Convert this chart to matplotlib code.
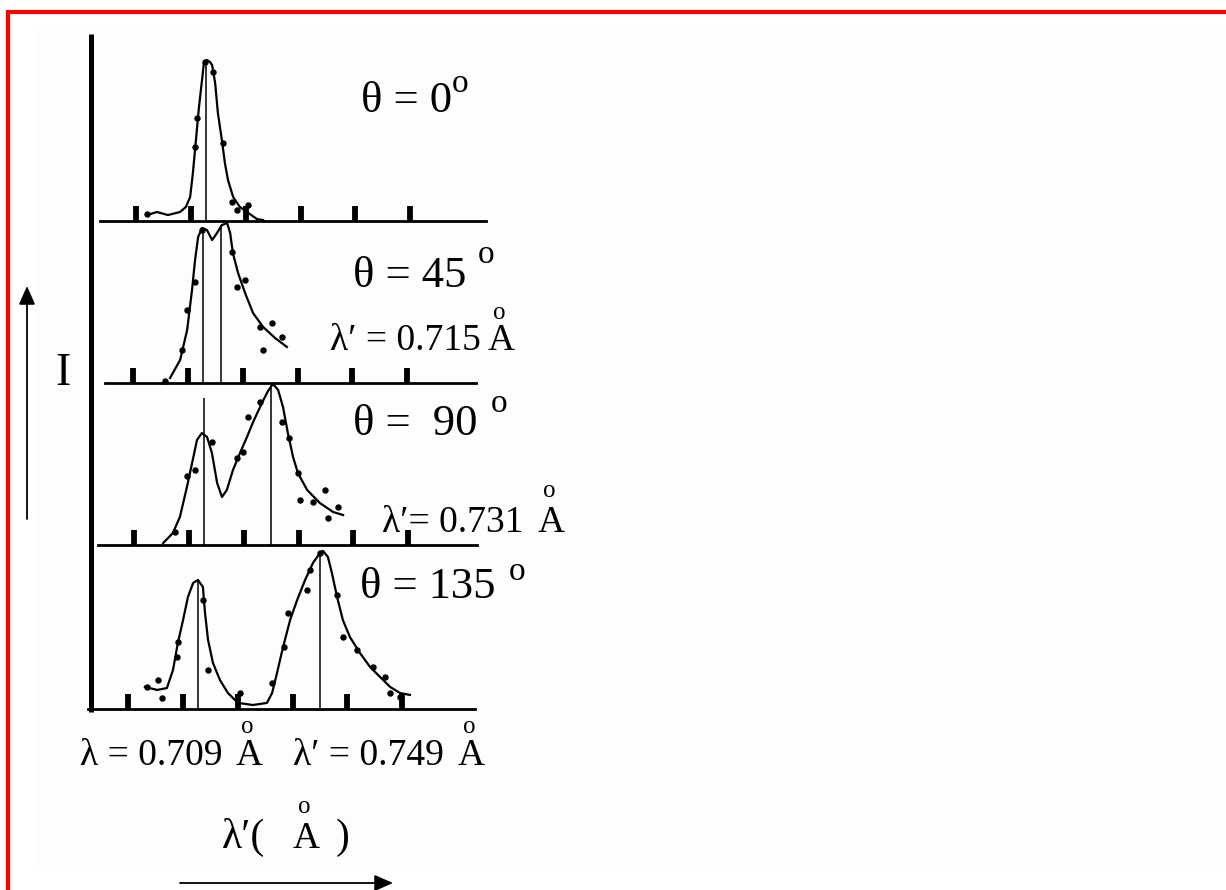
import matplotlib
matplotlib.use("Agg")
import matplotlib.pyplot as plt
from matplotlib.patches import Rectangle

plt.rcParams['font.family'] = ['Liberation Serif', 'DejaVu Serif']

# ---- wavelengths (Å) ----
lam_primary = 0.709
lam_shifted = {45: 0.715, 90: 0.731, 135: 0.749}
tick_lam = [0.686, 0.704, 0.722, 0.740, 0.758, 0.776]

# ---- theta = 0 deg ----
lam_00 = [0.6897, 0.6929, 0.6965, 0.7005, 0.7024, 0.7038, 0.7047, 0.7054, 0.7060,
          0.7067, 0.7077, 0.7083, 0.7093, 0.7103, 0.7110, 0.7120, 0.7129, 0.7142,
          0.7152, 0.7162, 0.7179, 0.7201, 0.7234, 0.7257, 0.7277]
int_00 = [0.037, 0.056, 0.037, 0.056, 0.087, 0.149, 0.298, 0.441, 0.565,
          0.708, 0.876, 0.981, 1.000, 0.988, 0.969, 0.857, 0.671, 0.503,
          0.360, 0.255, 0.149, 0.087, 0.043, 0.012, 0.006]
dot_lam_00 = [0.6897, 0.7054, 0.7060, 0.7087, 0.7113, 0.7146, 0.7175, 0.7192, 0.7228]
dot_int_00 = [0.043, 0.460, 0.640, 0.988, 0.925, 0.484, 0.118, 0.068, 0.099]
line_int_00 = [0.97]

# ---- theta = 45 deg ----
lam_45 = [0.6982, 0.7015, 0.7038, 0.7054, 0.7064, 0.7074, 0.7087, 0.7103, 0.7120,
          0.7136, 0.7152, 0.7169, 0.7179, 0.7188, 0.7205, 0.7228, 0.7254, 0.7287,
          0.7326, 0.7365]
int_45 = [0.031, 0.143, 0.329, 0.578, 0.764, 0.907, 0.963, 0.950, 0.888,
          0.932, 0.981, 0.994, 0.932, 0.807, 0.683, 0.559, 0.435, 0.348,
          0.280, 0.224]
dot_lam_45 = [0.6965, 0.7021, 0.7038, 0.7064, 0.7087, 0.7185, 0.7228, 0.7201,
              0.7277, 0.7316, 0.7349, 0.7287]
dot_int_45 = [0.012, 0.205, 0.453, 0.627, 0.950, 0.814, 0.640, 0.596,
              0.348, 0.373, 0.286, 0.205]
line_int_45 = [0.95, 0.98]

# ---- theta = 90 deg ----
lam_90 = [0.6956, 0.6988, 0.7011, 0.7034, 0.7051, 0.7067, 0.7083, 0.7100, 0.7116,
          0.7133, 0.7149, 0.7165, 0.7185, 0.7208, 0.7231, 0.7251, 0.7280, 0.7300,
          0.7316, 0.7333, 0.7349, 0.7365, 0.7382, 0.7398, 0.7428, 0.7470, 0.7513,
          0.7546]
int_90 = [0.012, 0.074, 0.173, 0.358, 0.506, 0.648, 0.691, 0.667, 0.568,
          0.383, 0.296, 0.340, 0.463, 0.568, 0.667, 0.759, 0.877, 0.951,
          0.994, 0.957, 0.852, 0.691, 0.543, 0.444, 0.340, 0.259, 0.204,
          0.185]
dot_lam_90 = [0.6995, 0.7034, 0.7060, 0.7116, 0.7198, 0.7218, 0.7234, 0.7274,
              0.7346, 0.7369, 0.7398, 0.7405, 0.7447, 0.7487, 0.7497, 0.7529]
dot_int_90 = [0.080, 0.426, 0.463, 0.636, 0.537, 0.574, 0.790, 0.883,
              0.759, 0.660, 0.444, 0.278, 0.265, 0.340, 0.167, 0.235]
line_int_90 = [0.91, 0.99]

# ---- theta = 135 deg ----
lam_135 = [0.6916, 0.6956, 0.6988, 0.7008, 0.7024, 0.7041, 0.7057, 0.7074, 0.7090,
           0.7106, 0.7113, 0.7123, 0.7139, 0.7162, 0.7188, 0.7221, 0.7270, 0.7316,
           0.7333, 0.7349, 0.7369, 0.7392, 0.7415, 0.7441, 0.7467, 0.7490, 0.7500,
           0.7516, 0.7529, 0.7546, 0.7565, 0.7588, 0.7621, 0.7654, 0.7687, 0.7720,
           0.7752, 0.7785]
int_135 = [0.138, 0.119, 0.131, 0.244, 0.413, 0.556, 0.700, 0.788, 0.806,
           0.763, 0.600, 0.431, 0.288, 0.181, 0.100, 0.038, 0.025, 0.038,
           0.100, 0.225, 0.388, 0.556, 0.681, 0.806, 0.913, 0.975, 0.988,
           0.950, 0.850, 0.700, 0.556, 0.450, 0.350, 0.263, 0.200, 0.138,
           0.100, 0.088]
dot_lam_135 = [0.6923, 0.6959, 0.6972, 0.7024, 0.7021, 0.7106, 0.7123, 0.7228,
               0.7333, 0.7372, 0.7385, 0.7447, 0.7457, 0.7490, 0.7546, 0.7565,
               0.7611, 0.7664, 0.7703, 0.7720, 0.7752]
dot_int_135 = [0.138, 0.181, 0.069, 0.419, 0.325, 0.681, 0.244, 0.100,
               0.163, 0.388, 0.600, 0.744, 0.869, 0.975, 0.713, 0.450,
               0.369, 0.263, 0.200, 0.100, 0.075]
line_int_135 = [0.81, 0.975]

W, HF = 1226, 890
PX_PER_A = 3050.0

fig = plt.figure(figsize=(W / 100, HF / 100), dpi=100)
fig.patch.set_facecolor('white')

# overlay in pixel coordinates for frame, arrows and labels
ov = fig.add_axes([0, 0, 1, 1])
ov.set_xlim(0, W)
ov.set_ylim(HF, 0)
ov.axis('off')

ov.add_patch(Rectangle((36, 30), W - 36, 836, facecolor='#fdfdfd', edgecolor='none', zorder=0))
ov.plot([8, 8], [10, HF], color='#ff0000', lw=3.0, solid_capstyle='butt')
ov.plot([6, W], [12, 12], color='#ff0000', lw=3.0, solid_capstyle='butt')

# intensity axis line
ov.plot([91, 91], [34, 712], color='black', lw=3.6, solid_capstyle='butt', zorder=3)

# direction arrows
arrow_style = dict(arrowstyle='-|>,head_length=0.75,head_width=0.33', lw=1.3,
                   color='black', mutation_scale=15, shrinkA=0, shrinkB=0)
ov.annotate('', xy=(27, 286), xytext=(27, 519), arrowprops=arrow_style)
ov.annotate('', xy=(393, 883), xytext=(180, 883), arrowprops=arrow_style)

# panel layout: (left px, right px, px of 0.709 Å, baseline px, height px)
panels = [
    (0, (100, 486, 206, 221, 161), lam_00, int_00, dot_lam_00, dot_int_00, [lam_primary], line_int_00),
    (45, (105, 476, 203, 383, 161), lam_45, int_45, dot_lam_45, dot_int_45,
     [lam_primary, lam_shifted[45]], line_int_45),
    (90, (98, 477, 204, 545, 162), lam_90, int_90, dot_lam_90, dot_int_90,
     [lam_primary, lam_shifted[90]], line_int_90),
    (135, (88, 475, 198, 709, 160), lam_135, int_135, dot_lam_135, dot_int_135,
     [lam_primary, lam_shifted[135]], line_int_135),
]

for angle, (xa, xb, x0, base, h), lam, inten, dlam, dint, vl, vh in panels:
    ax = fig.add_axes([xa / W, (HF - base) / HF, (xb - xa) / W, h / HF])
    ax.set_facecolor('none')
    ax.set_xlim(lam_primary + (xa - x0) / PX_PER_A, lam_primary + (xb - x0) / PX_PER_A)
    ax.set_ylim(0, 1)
    for s in ('top', 'right', 'left'):
        ax.spines[s].set_visible(False)
    ax.spines['bottom'].set_linewidth(2.0)
    ax.set_xticks(tick_lam)
    ax.set_yticks([])
    ax.tick_params(axis='x', direction='in', length=11, width=4.2, color='black',
                   labelbottom=False)
    ax.plot(lam, inten, color='black', lw=1.6, clip_on=False, zorder=3)
    ax.plot(dlam, dint, 'o', color='black', ms=3.6, clip_on=False, zorder=4)
    ax.vlines(vl, 0, vh, color='black', lw=1.1, zorder=2)

# ---- labels ----
TXT = dict(color='black', ha='left', va='baseline')
THETA_SIZE = 32
DEG_SIZE = 24
LAM_SIZE = 27
RING_SIZE = 18


def angstrom(x, y, size, ring_dy):
    ov.text(x, y, 'A', fontsize=size, **TXT)
    ov.text(x + 0.27 * size * 100 / 72 * 0.45, y - ring_dy, 'o', fontsize=RING_SIZE, **TXT)


ov.text(361, 112, 'θ = 0', fontsize=THETA_SIZE, **TXT)
ov.text(452, 92, 'o', fontsize=DEG_SIZE, **TXT)

ov.text(353, 287, 'θ = 45', fontsize=THETA_SIZE, **TXT)
ov.text(478, 263, 'o', fontsize=DEG_SIZE, **TXT)
ov.text(330, 350, 'λ′ = 0.715', fontsize=LAM_SIZE, **TXT)
angstrom(488, 350, LAM_SIZE, 31)

ov.text(353, 435, 'θ =  90', fontsize=THETA_SIZE, **TXT)
ov.text(491, 412, 'o', fontsize=DEG_SIZE, **TXT)
ov.text(382, 532, 'λ′= 0.731', fontsize=LAM_SIZE, **TXT)
angstrom(538, 532, LAM_SIZE, 35)

ov.text(360, 598, 'θ = 135', fontsize=THETA_SIZE, **TXT)
ov.text(509, 580, 'o', fontsize=DEG_SIZE, **TXT)

ov.text(80, 765, 'λ = 0.709', fontsize=LAM_SIZE, **TXT)
angstrom(236, 765, LAM_SIZE, 32)
ov.text(293, 765, 'λ′ = 0.749', fontsize=LAM_SIZE, **TXT)
angstrom(458, 765, LAM_SIZE, 32)

ov.text(222, 848, 'λ′(', fontsize=30, **TXT)
angstrom(293, 848, LAM_SIZE, 35)
ov.text(336, 848, ')', fontsize=30, **TXT)

ov.text(55, 385, 'I', fontsize=33, **TXT)

fig.savefig('out.png', dpi=100, facecolor='white')
